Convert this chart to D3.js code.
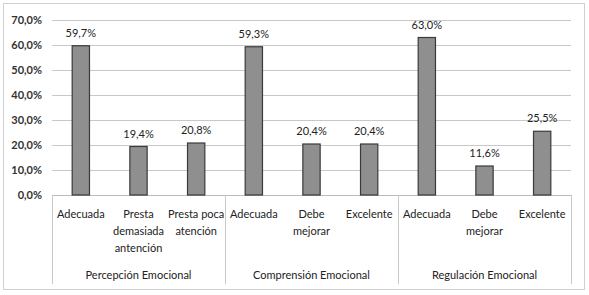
<!DOCTYPE html>
<html>
<head>
<meta charset="utf-8">
<script src="https://cdn.jsdelivr.net/npm/d3@7"></script>
<style>
body { margin: 0; background: #fff; }
text { font-family: Lato, "Open Sans", sans-serif; fill: #222; }
</style>
</head>
<body>
<div id="chart"></div>
<script>
// data
var groups = ["Percepción Emocional", "Comprensión Emocional", "Regulación Emocional"];
var categories = [
	["Adecuada"], ["Presta", "demasiada", "antención"], ["Presta poca", "atención"],
	["Adecuada"], ["Debe", "mejorar"], ["Excelente"],
	["Adecuada"], ["Debe", "mejorar"], ["Excelente"]
];
var values = [59.7, 19.4, 20.8, 59.3, 20.4, 20.4, 63.0, 11.6, 25.5];
var ticks = [0, 10, 20, 30, 40, 50, 60, 70];

var width = 589, height = 295;
var mLeft = 52, mRight = 571, mTop = 20, mBottom = 195;

var svg = d3.select("#chart").append("svg")
	.attr("width", width)
	.attr("height", height);

// outer frame
svg.append("rect")
	.attr("x", 3.5).attr("y", 3.5)
	.attr("width", 581).attr("height", 286)
	.attr("fill", "#fff")
	.attr("stroke", "#d0d0d0");

var x = d3.scaleBand()
	.domain(d3.range(values.length))
	.range([mLeft, mRight])
	.paddingInner(0.7)
	.paddingOuter(0.35);

var y = d3.scaleLinear().domain([0, 70]).range([mBottom, mTop]);

var fmt = function(v){ return v.toFixed(1).replace(".", ",") + "%"; };

// gridlines
svg.append("g").selectAll("line")
	.data(ticks)
	.enter().append("line")
	.attr("x1", mLeft).attr("x2", mRight)
	.attr("y1", function(d){ return Math.round(y(d)) + 0.5; })
	.attr("y2", function(d){ return Math.round(y(d)) + 0.5; })
	.attr("stroke", function(d){ return d === 0 ? "#bbb" : "#c8c8c8"; });

// y tick labels
svg.append("g").selectAll("text")
	.data(ticks)
	.enter().append("text")
	.attr("x", 42)
	.attr("y", function(d){ return y(d); })
	.attr("dy", "0.35em")
	.attr("text-anchor", "end")
	.style("font-size", "11px")
	.style("font-weight", "bold")
	.style("fill", "#333")
	.text(function(d){ return fmt(d); });

// group separators
var step = (mRight - mLeft) / values.length;
svg.append("g").selectAll("line")
	.data([0, 3, 6, 9])
	.enter().append("line")
	.attr("x1", function(d){ return Math.round(mLeft + d * step) + 0.5; })
	.attr("x2", function(d){ return Math.round(mLeft + d * step) + 0.5; })
	.attr("y1", mBottom)
	.attr("y2", 284)
	.attr("stroke", "#c8c8c8");

// bars
svg.append("g").selectAll("rect")
	.data(values)
	.enter().append("rect")
	.attr("x", function(d, i){ return x(i); })
	.attr("y", function(d){ return y(d); })
	.attr("width", x.bandwidth())
	.attr("height", function(d){ return mBottom - y(d); })
	.attr("fill", "#8f8f8f")
	.attr("stroke", "#3a3a3a")
	.attr("stroke-width", 1.2);

// value labels
svg.append("g").selectAll("text")
	.data(values)
	.enter().append("text")
	.attr("x", function(d, i){ return x(i) + x.bandwidth() / 2; })
	.attr("y", function(d){ return y(d) - 9; })
	.attr("text-anchor", "middle")
	.style("font-size", "11px")
	.text(function(d){ return fmt(d); });

// category labels
var cat = svg.append("g").selectAll("text")
	.data(categories)
	.enter().append("text")
	.attr("x", function(d, i){ return x(i) + x.bandwidth() / 2; })
	.attr("y", 218)
	.attr("text-anchor", "middle")
	.style("font-size", "11px");

cat.selectAll("tspan")
	.data(function(d){ return d; })
	.enter().append("tspan")
	.attr("x", function(){ return d3.select(this.parentNode).attr("x"); })
	.attr("dy", function(d, i){ return i === 0 ? 0 : 17; })
	.text(function(d){ return d; });

// group labels
svg.append("g").selectAll("text")
	.data(groups)
	.enter().append("text")
	.attr("x", function(d, i){ return mLeft + (i * 3 + 1.5) * step; })
	.attr("y", 279)
	.attr("text-anchor", "middle")
	.style("font-size", "11px")
	.text(function(d){ return d; });
</script>
</body>
</html>
